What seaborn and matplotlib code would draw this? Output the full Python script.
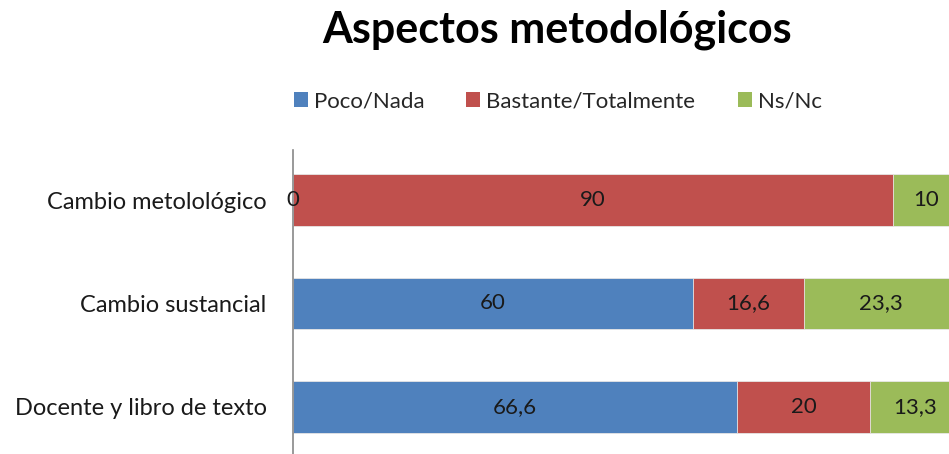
#!/usr/bin/env python
import numpy as np
import pandas as pd
import matplotlib
matplotlib.use("Agg")
import matplotlib.pyplot as plt
import seaborn as sns
from matplotlib.patches import Patch

categories = ["Cambio metolológico", "Cambio sustancial", "Docente y libro de texto"]
series = ["Poco/Nada", "Bastante/Totalmente", "Ns/Nc"]
poco = [0, 60, 66.6]
bastante = [90, 16.6, 20]
nsnc = [10, 23.3, 13.3]
labels = [["0", "60", "66,6"], ["90", "16,6", "20"], ["10", "23,3", "13,3"]]

colors = ["#4F81BD", "#C0504D", "#9BBB59"]

sns.set_style("white")
plt.rcParams["font.family"] = ["Lato", "DejaVu Sans"]

df = pd.DataFrame({"cat": categories, "poco": poco, "bastante": bastante, "nsnc": nsnc})
df["c1"] = df["poco"]
df["c2"] = df["poco"] + df["bastante"]
df["c3"] = df["c2"] + df["nsnc"]

fig = plt.figure(figsize=(9.49, 4.54), dpi=100)
ax = fig.add_axes([293 / 949, 0, 1 - 293 / 949, 1 - 150 / 454])

# stacked look: draw cumulative totals back to front
for col, c in zip(["c3", "c2", "c1"], colors[::-1]):
    sns.barplot(data=df, y="cat", x=col, color=c, orient="h", width=0.5,
                ax=ax, saturation=1, edgecolor="#e8e8e8", linewidth=0.6)

starts = [np.zeros(3), df["c1"].values, df["c2"].values]
widths = [df["poco"].values, df["bastante"].values, df["nsnc"].values]
for s, w, labs in zip(starts, widths, labels):
    for i in range(3):
        ax.text(s[i] + w[i] / 2, i, labs[i], ha="center", va="center",
                fontsize=16, color="#1a1a1a", clip_on=False)

ax.set_xlim(0, 98.4)
ax.set_ylim(2.456, -0.485)
ax.set_xlabel("")
ax.set_ylabel("")
ax.set_xticks([])
ax.tick_params(axis="y", length=0, pad=19, labelsize=17)
for t in ax.get_yticklabels():
    t.set_color("#1a1a1a")
for side in ["top", "right", "bottom"]:
    ax.spines[side].set_visible(False)
ax.spines["left"].set_color("#888888")
ax.spines["left"].set_linewidth(1.2)

fig.text(0.5875, 0.934, "Aspectos metodológicos", ha="center", va="center",
         fontsize=31, fontweight="bold", color="black")

handles = [Patch(facecolor=c, edgecolor="none") for c in colors]
fig.legend(handles, series, loc="center", bbox_to_anchor=(0.5875, 0.777), ncol=3,
           frameon=False, fontsize=16, handlelength=0.63, handleheight=0.63,
           handletextpad=0.27, columnspacing=1.9, borderpad=0, borderaxespad=0)

plt.savefig("out.png", dpi=100)
